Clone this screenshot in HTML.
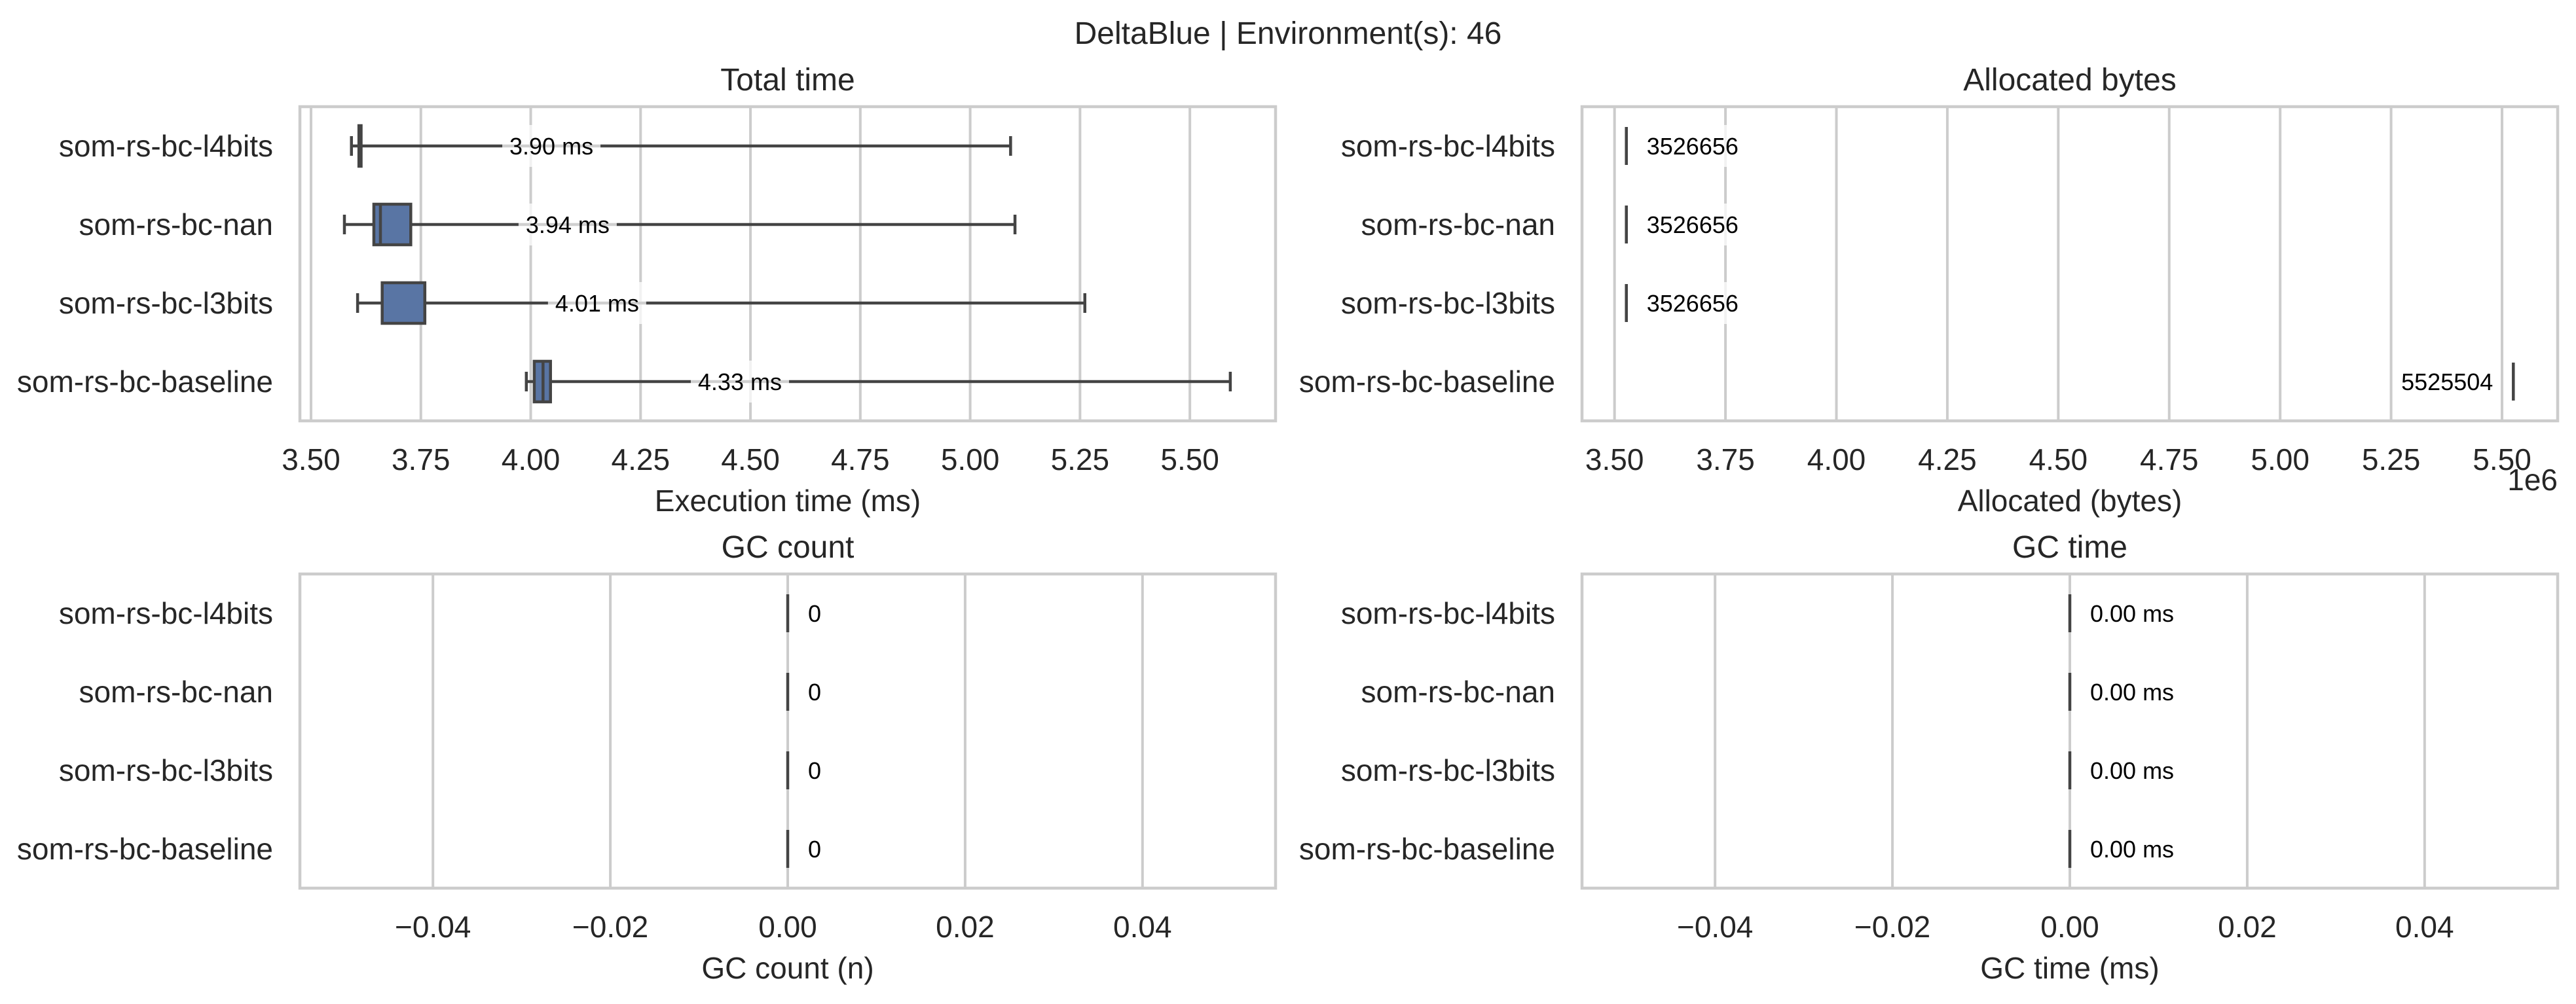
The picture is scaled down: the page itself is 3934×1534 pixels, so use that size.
<!DOCTYPE html>
<html><head><meta charset="utf-8"><title>DeltaBlue</title>
<style>
html,body{margin:0;padding:0;background:#fff;}
svg{display:block;font-family:"Liberation Sans",Arial,sans-serif;}
</style></head>
<body>
<svg id="chart" width="3934" height="1534" viewBox="0 0 3934 1534" xmlns="http://www.w3.org/2000/svg">
<rect x="0" y="0" width="3934" height="1534" fill="#fff"/>
<text x="1967" y="67" font-size="48" fill="#262626" text-anchor="middle">DeltaBlue | Environment(s): 46</text>
</svg>
<script>
// categories
const categories = ["som-rs-bc-l4bits","som-rs-bc-nan","som-rs-bc-l3bits","som-rs-bc-baseline"];
// Total time (ms) box statistics
const timeLow  = [3.592, 3.576, 3.606, 3.990];
const timeQ1   = [3.609, 3.643, 3.662, 4.008];
const timeMed  = [3.612, 3.658, 3.759, 4.028];
const timeQ3   = [3.614, 3.727, 3.759, 4.045];
const timeHigh = [5.092, 5.102, 5.261, 5.592];
const timeLabels = ["3.90 ms","3.94 ms","4.01 ms","4.33 ms"];
const timeLabelPos = [4.047, 4.084, 4.151, 4.476];
const timeTicks = [3.50,3.75,4.00,4.25,4.50,4.75,5.00,5.25,5.50];
// Allocated bytes
const allocValues = [3526656, 3526656, 3526656, 5525504];
const allocTicks = [3.50,3.75,4.00,4.25,4.50,4.75,5.00,5.25,5.50];
// GC count
const gcCountValues = [0,0,0,0];
const gcCountLabels = ["0","0","0","0"];
// GC time
const gcTimeValues = [0,0,0,0];
const gcTimeLabels = ["0.00 ms","0.00 ms","0.00 ms","0.00 ms"];
const zeroTicks = [-0.04,-0.02,0.00,0.02,0.04];

const NS="http://www.w3.org/2000/svg";
const svg=document.getElementById('chart');
function el(tag,attrs,parent){const e=document.createElementNS(NS,tag);for(const k in attrs)e.setAttribute(k,attrs[k]);(parent||svg).appendChild(e);return e;}
function txt(s,attrs,parent){const e=el('text',attrs,parent);e.textContent=s;return e;}

function panel(opt){
  const g=el('g',{});
  
  
  const L=opt.x, R=opt.x+1490, T=opt.y, B=opt.y+480;
  const sx=v=>L+(v-opt.dmin)/(opt.dmax-opt.dmin)*(R-L);
  const band=(B-T)/categories.length;
  const sy=i=>T+band*(i+0.5);
  const t=txt(opt.title,{x:(L+R)/2,y:T-25,'font-size':48,fill:'#262626','text-anchor':'middle'},g);
  
  
  opt.ticks.forEach(v=>{
    const x=sx(v);
    const gl=el('line',{x1:x,x2:x,y1:T,y2:B,stroke:'#cccccc','stroke-width':4},g);
    
    
    const lab=(v<0?'\u2212':'')+Math.abs(v).toFixed(2);
    const tl=txt(lab,{x:x,y:T+480+58+17,'font-size':46,fill:'#262626','text-anchor':'middle'},g);
    
    
  });
  const fr=el('rect',{x:L,y:T,width:R-L,height:B-T,fill:'none',stroke:'#cccccc','stroke-width':4.5},g);
  
  
  categories.forEach((c,i)=>{
    const yl=txt(c,{x:L-41,y:sy(i)+16,'font-size':46,fill:'#262626','text-anchor':'end'},g);
    
    
  });
  const xl=txt(opt.xlabel,{x:(L+R)/2,y:T+480+138,'font-size':46,fill:'#262626','text-anchor':'middle'},g);
  
  
  if(opt.offset){
    const o=txt(opt.offset,{x:R,y:T+480+106,'font-size':46,fill:'#262626','text-anchor':'end'},g);
    
    
  }
  opt.draw(g,sx,sy,band);
}

function label(g,s,x,y,anchor){
  const w=s.length*20+10;
  const bx=anchor==='middle'?x-w/2:(anchor==='start'?x-5:x-w+5);
  const r=el('rect',{x:bx,y:y-32,width:w,height:64,fill:'#fff','fill-opacity':0.75},g);
  
  
  const t=txt(s,{x:x,y:y+13,'font-size':36,fill:'#000','text-anchor':anchor},g);
  
  
}

function vmarks(values,labels,scale,anchorFn){
  return (g,sx,sy,band)=>{
    values.forEach((v,i)=>{
      const x=sx(v*scale), y=sy(i);
      const m=el('line',{x1:x,x2:x,y1:y-29,y2:y+29,stroke:'#444','stroke-width':4.5},g);
      
      
      const a=anchorFn(i);
      label(g,labels[i],a==='end'?x-31:x+31,y,a);
    });
  };
}

panel({name:'total-time-panel',x:458,y:163,dmin:3.4747,dmax:5.695,ticks:timeTicks,title:'Total time',xlabel:'Execution time (ms)',
  draw:(g,sx,sy,band)=>{
    categories.forEach((c,i)=>{
      const y=sy(i), h=62, col='#444';
      const w1=el('line',{x1:sx(timeLow[i]),x2:sx(timeQ1[i]),y1:y,y2:y,stroke:col,'stroke-width':4.5},g);
      
      
      const w2=el('line',{x1:sx(timeQ3[i]),x2:sx(timeHigh[i]),y1:y,y2:y,stroke:col,'stroke-width':4.5},g);
      
      
      [timeLow[i],timeHigh[i]].forEach(v=>{
        const cap=el('line',{x1:sx(v),x2:sx(v),y1:y-15,y2:y+15,stroke:col,'stroke-width':4.5},g);
        
        
      });
      const b=el('rect',{x:sx(timeQ1[i]),y:y-h/2,width:Math.max(sx(timeQ3[i])-sx(timeQ1[i]),0.5),height:h,fill:'#5975a4',stroke:col,'stroke-width':4.5},g);
      
      
      const md=el('line',{x1:sx(timeMed[i]),x2:sx(timeMed[i]),y1:y-h/2,y2:y+h/2,stroke:col,'stroke-width':4.5},g);
      
      
      label(g,timeLabels[i],sx(timeLabelPos[i]),y,'middle');
    });
  }});

panel({name:'allocated-bytes-panel',x:2416,y:163,dmin:3.4267,dmax:5.6254,ticks:allocTicks,title:'Allocated bytes',xlabel:'Allocated (bytes)',offset:'1e6',
  draw:vmarks(allocValues,allocValues.map(String),1e-6,i=>allocValues[i]*1e-6>4.8?'end':'start')});

panel({name:'gc-count-panel',x:458,y:877,dmin:-0.055,dmax:0.055,ticks:zeroTicks,title:'GC count',xlabel:'GC count (n)',
  draw:vmarks(gcCountValues,gcCountLabels,1,()=> 'start')});

panel({name:'gc-time-panel',x:2416,y:877,dmin:-0.055,dmax:0.055,ticks:zeroTicks,title:'GC time',xlabel:'GC time (ms)',
  draw:vmarks(gcTimeValues,gcTimeLabels,1,()=> 'start')});
</script>
</body></html>
